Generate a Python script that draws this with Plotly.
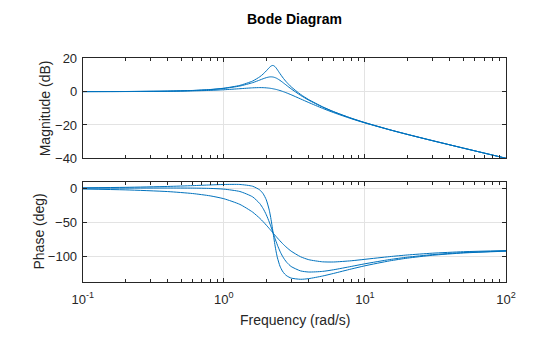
import plotly.graph_objects as go

freq = [0.1, 0.2, 0.4, 0.6, 0.8, 1.0, 1.3, 1.6, 1.8, 1.9, 2.0, 2.1, 2.15, 2.2, 2.25, 2.3,
        2.35, 2.4, 2.5, 2.6, 2.7, 2.8, 3.0, 3.5, 4, 5, 6, 8, 10, 15, 20, 30, 50, 100]

# Magnitude (dB) for the three responses (sharp, medium, flat resonance)
mag_sharp = [0.02, 0.08, 0.31, 0.70, 1.28, 2.06, 3.76, 6.36, 8.92, 10.56, 12.46, 14.42, 15.22,
             15.66, 15.62, 15.08, 14.17, 13.09, 10.84, 8.79, 7.01, 5.46, 2.90, -1.66, -4.79,
             -9.07, -12.00, -15.94, -18.59, -22.87, -25.65, -29.38, -33.92, -39.99]
mag_medium = [0.02, 0.07, 0.29, 0.65, 1.18, 1.90, 3.36, 5.37, 6.96, 7.74, 8.39, 8.80, 8.87,
              8.84, 8.70, 8.46, 8.14, 7.73, 6.78, 5.72, 4.64, 3.60, 1.66, -2.24, -5.14,
              -9.24, -12.10, -15.99, -18.62, -22.88, -25.66, -29.38, -33.92, -39.99]
mag_flat = [0.01, 0.05, 0.19, 0.43, 0.74, 1.13, 1.76, 2.28, 2.41, 2.38, 2.27, 2.08, 1.96,
            1.82, 1.66, 1.49, 1.30, 1.10, 0.66, 0.18, -0.32, -0.84, -1.88, -4.38, -6.56,
            -10.01, -12.59, -16.24, -18.78, -22.95, -25.70, -29.40, -33.93, -40.00]

# Phase (deg)
ph_sharp = [0.68, 1.36, 2.67, 3.86, 4.87, 5.56, 5.59, 2.96, -2.57, -8.01, -17.04, -32.30,
            -43.16, -56.01, -69.72, -82.69, -93.75, -102.55, -114.61, -121.79, -126.24,
            -129.11, -132.24, -134.01, -133.01, -129.25, -125.36, -118.89, -114.14, -106.87,
            -102.87, -98.69, -95.25, -92.63]
ph_medium = [0.12, 0.23, 0.35, 0.24, -0.23, -1.29, -4.79, -12.65, -22.65, -29.91, -39.00,
             -49.78, -55.62, -61.60, -67.55, -73.32, -78.79, -83.86, -92.65, -99.65, -105.11,
             -109.34, -115.19, -121.66, -123.32, -122.40, -119.99, -115.10, -111.19, -104.95,
             -101.45, -97.74, -94.68, -92.35]
ph_flat = [-1.16, -2.35, -4.87, -7.75, -11.18, -15.39, -23.75, -35.10, -44.28, -49.21, -54.25,
           -59.27, -61.74, -64.18, -66.56, -68.88, -71.13, -73.30, -77.39, -81.12, -84.48,
           -87.50, -92.57, -100.84, -105.15, -108.29, -108.53, -106.75, -104.61, -100.63,
           -98.22, -95.60, -93.40, -91.71]

x_tickvals = [0.1, 1, 10, 100]
x_ticktext = ["10<sup>-1</sup>", "10<sup>0</sup>", "10<sup>1</sup>", "10<sup>2</sup>"]
x_minor = [m * d for d in [0.1, 1, 10] for m in range(2, 10)]
mag_ticks = [-40, -20, 0, 20]
ph_ticks = [-100, -50, 0]

COLOR = "#0072BD"
AX = "#262626"
GRID = "#E3E3E3"
FONT = "Liberation Sans, Arial, sans-serif"

fig = go.Figure()
for mag in (mag_sharp, mag_medium, mag_flat):
    fig.add_trace(go.Scatter(x=freq, y=mag, xaxis="x", yaxis="y", mode="lines",
                             line=dict(color=COLOR, width=1, shape="spline", smoothing=0.6),
                             showlegend=False, hoverinfo="skip"))
for ph in (ph_sharp, ph_medium, ph_flat):
    fig.add_trace(go.Scatter(x=freq, y=ph, xaxis="x2", yaxis="y2", mode="lines",
                             line=dict(color=COLOR, width=1, shape="spline", smoothing=0.6),
                             showlegend=False, hoverinfo="skip"))

common_x = dict(type="log", range=[-1, 2], domain=[0.1477, 0.9036], tickmode="array",
                tickvals=x_tickvals, ticktext=x_ticktext, ticks="inside", ticklen=4,
                tickcolor=AX, showline=True, linecolor=AX, linewidth=1, mirror="ticks",
                showgrid=True, gridcolor=GRID, gridwidth=1, zeroline=False, automargin=False,
                tickfont=dict(family=FONT, size=13, color=AX),
                minor=dict(tickmode="array", tickvals=x_minor, ticks="inside", ticklen=3,
                           tickcolor=AX, showgrid=False))
common_y = dict(ticks="inside", ticklen=4, tickcolor=AX, showline=True, linecolor=AX,
                linewidth=1, mirror="ticks", showgrid=True, gridcolor=GRID, gridwidth=1,
                zeroline=False, automargin=False, tickfont=dict(family=FONT, size=13, color=AX))

fig.update_layout(
    width=560, height=337, margin=dict(l=0, r=0, t=0, b=0),
    paper_bgcolor="white", plot_bgcolor="white",
    xaxis=dict(common_x, anchor="y", showticklabels=False),
    yaxis=dict(common_y, anchor="x", domain=[0.5303, 0.827], range=[-40, 20],
               tickmode="array", tickvals=mag_ticks, ticklabelstandoff=2),
    xaxis2=dict(common_x, anchor="y2", matches="x", ticklabelstandoff=5),
    yaxis2=dict(common_y, anchor="x2", domain=[0.1632, 0.4585], range=[-138, 8.5],
                tickmode="array", tickvals=ph_ticks, ticklabelstandoff=2),
    annotations=[
        dict(text="<b>Bode Diagram</b>", x=0.526, y=1 - 19 / 337, xref="paper", yref="paper",
             showarrow=False, xanchor="center", yanchor="middle",
             font=dict(family=FONT, size=14, color="#000000")),
        dict(text="Magnitude (dB)", x=45 / 560, y=1 - 108.3 / 337, xref="paper", yref="paper",
             showarrow=False, textangle=-90, xanchor="center", yanchor="middle",
             font=dict(family=FONT, size=14, color=AX)),
        dict(text="Phase (deg)", x=38.5 / 560, y=1 - 232 / 337, xref="paper", yref="paper",
             showarrow=False, textangle=-90, xanchor="center", yanchor="middle",
             font=dict(family=FONT, size=14, color=AX)),
        dict(text="Frequency (rad/s)", x=0.526, y=1 - 319.5 / 337, xref="paper", yref="paper",
             showarrow=False, xanchor="center", yanchor="middle",
             font=dict(family=FONT, size=14, color=AX)),
    ],
)

fig.write_html("out.html")
